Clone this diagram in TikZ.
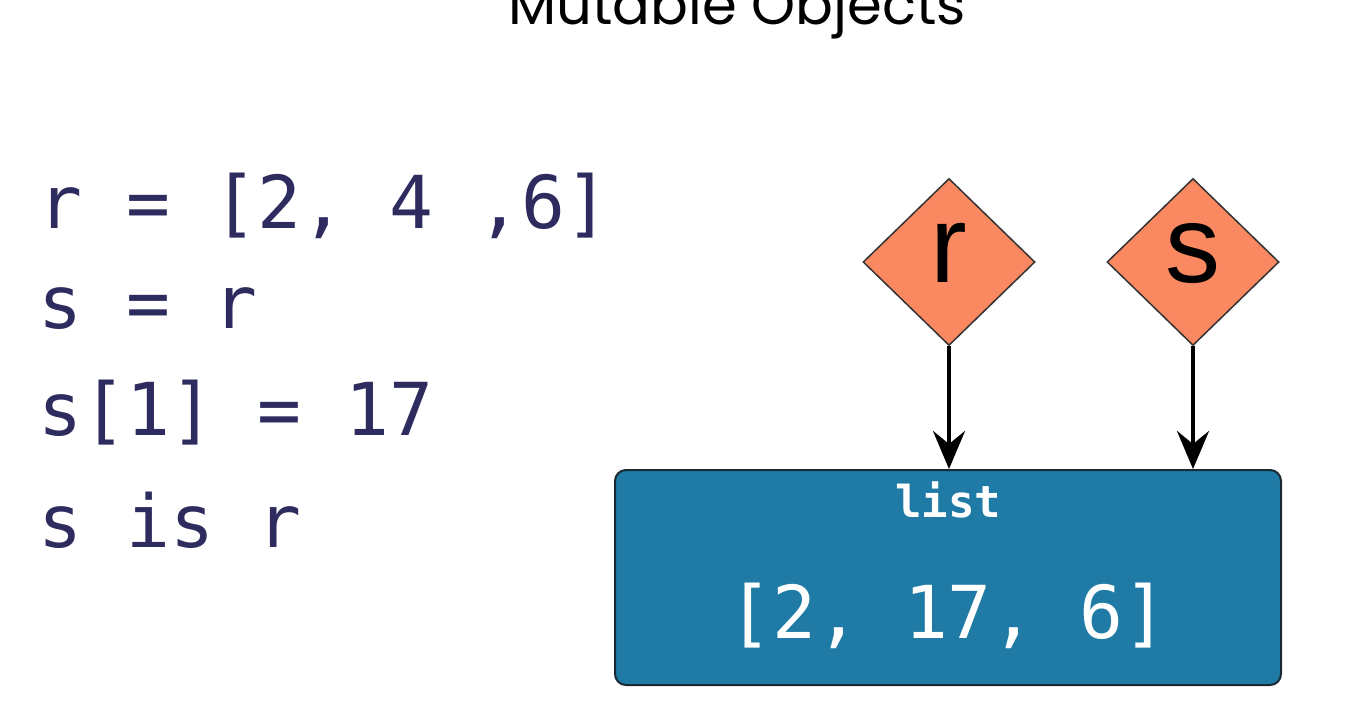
\documentclass[tikz,border=0pt]{standalone}
\usepackage{fontspec}
\usetikzlibrary{arrows.meta,shapes.geometric}
\newfontfamily\codefont{DejaVu Sans Mono}
\newfontfamily\titlefont{Poppins}
\newfontfamily\varfont{Liberation Sans}
\definecolor{codecol}{HTML}{2E2B5F}
\definecolor{diafill}{HTML}{FA8861}
\definecolor{boxfill}{HTML}{1F7BA6}
\definecolor{boxline}{HTML}{1A2A33}
\tikzset{
  codeline/.style={anchor=base west,inner sep=0pt,text=codecol,font=\codefont\fontsize{73}{80}\selectfont},
  varnode/.style={shape=diamond,draw=black!80,line width=1.5pt,fill=diafill,minimum width=172pt,minimum height=167pt,inner sep=0pt,font=\varfont\fontsize{110}{120}\selectfont},
  listbox/.style={draw=boxline,line width=2pt,fill=boxfill,rounded corners=11pt,minimum width=666pt,minimum height=215pt,inner sep=0pt},
  arr/.style={line width=4.5pt,-{Stealth[length=38pt,width=32pt,inset=13pt]}},
  boxtext/.style={anchor=base,inner sep=0pt,text=white}
}
\begin{document}
\begin{tikzpicture}[x=1pt,y=-1pt]
\useasboundingbox (0,0) rectangle (1346,721);
\clip (0,0) rectangle (1346,721);
\fill[white] (0,0) rectangle (1346,721);
\node[anchor=base,inner sep=0pt,font=\titlefont\fontsize{56}{60}\selectfont] (title) at (737,24) {Mutable Objects};
\node[codeline] (c1) at (38,228) {r = [2, 4 ,6]};
\node[codeline] (c2) at (38,328) {s = r};
\node[codeline] (c3) at (38,435) {s[1] = 17};
\node[codeline] (c4) at (38,547) {s is r};
\node[varnode] (r) at (949,262) {\raisebox{8pt}[0.52em][0pt]{r}};
\node[varnode] (s) at (1193,262) {\raisebox{8pt}[0.52em][0pt]{s}};
\node[listbox] (lst) at (948,577.5) {};
\node[boxtext,font=\codefont\bfseries\fontsize{44}{50}\selectfont] (lbl) at (948,517) {list};
\node[boxtext,font=\codefont\fontsize{73}{80}\selectfont] (val) at (948,638) {[2, 17, 6]};
\draw[arr] (r.south) -- (r.south |- lst.north);
\draw[arr] (s.south) -- (s.south |- lst.north);
\end{tikzpicture}
\end{document}
